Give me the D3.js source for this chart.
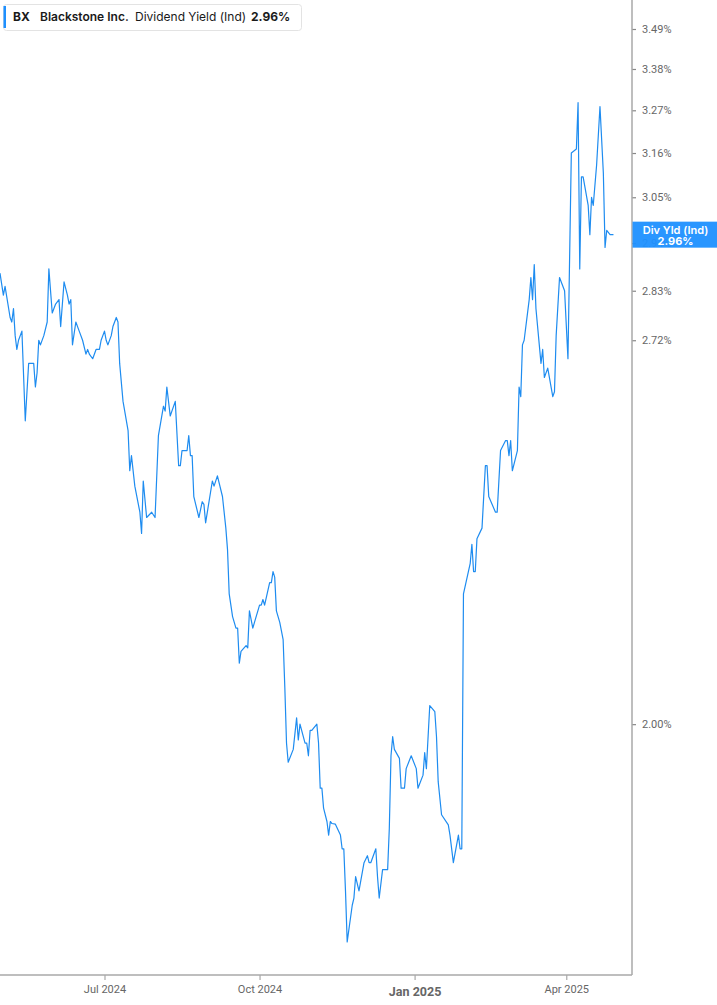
<!DOCTYPE html>
<html>
<head>
<meta charset="utf-8">
<script src="https://cdn.jsdelivr.net/npm/d3@7"></script>
<style>
  html, body { margin: 0; padding: 0; background: #ffffff; }
  svg { display: block; }
</style>
</head>
<body>
<svg id="chart" width="717" height="1005"></svg>
<script>
// ---- Data ----
const ticker = "BX";
const companyName = "Blackstone Inc.";
const metricName = "Dividend Yield (Ind)";
const metricShort = "Div Yld (Ind)";
const lastLabel = "2.96%";

const dates = [
  "2024-04-30","2024-05-02","2024-05-03","2024-05-06","2024-05-07","2024-05-08","2024-05-09","2024-05-10","2024-05-11","2024-05-13",
  "2024-05-15","2024-05-17","2024-05-20","2024-05-21","2024-05-22","2024-05-23","2024-05-24","2024-05-26","2024-05-28","2024-05-29",
  "2024-05-31","2024-06-02","2024-06-04","2024-06-05","2024-06-07","2024-06-09","2024-06-10","2024-06-11","2024-06-12","2024-06-14",
  "2024-06-16","2024-06-18","2024-06-20","2024-06-21","2024-06-22","2024-06-24","2024-06-26","2024-06-28","2024-06-29","2024-07-01",
  "2024-07-02","2024-07-03","2024-07-05","2024-07-06","2024-07-08","2024-07-09","2024-07-10","2024-07-12","2024-07-15","2024-07-16",
  "2024-07-17","2024-07-19","2024-07-22","2024-07-23","2024-07-24","2024-07-26","2024-07-29","2024-07-31","2024-08-02","2024-08-05",
  "2024-08-06","2024-08-07","2024-08-09","2024-08-12","2024-08-14","2024-08-15","2024-08-16","2024-08-19","2024-08-20","2024-08-21",
  "2024-08-22","2024-08-23","2024-08-26","2024-08-28","2024-08-29","2024-08-30","2024-09-03","2024-09-04","2024-09-06","2024-09-09",
  "2024-09-11","2024-09-12","2024-09-13","2024-09-15","2024-09-17","2024-09-18","2024-09-19","2024-09-20","2024-09-23","2024-09-24",
  "2024-09-25","2024-09-27","2024-09-30","2024-10-01","2024-10-02","2024-10-03","2024-10-04","2024-10-07","2024-10-08","2024-10-09",
  "2024-10-10","2024-10-11","2024-10-13","2024-10-15","2024-10-16","2024-10-17","2024-10-18","2024-10-21","2024-10-23","2024-10-24",
  "2024-10-25","2024-10-28","2024-10-29","2024-10-30","2024-10-31","2024-11-01","2024-11-04","2024-11-05","2024-11-06","2024-11-07",
  "2024-11-08","2024-11-10","2024-11-11","2024-11-12","2024-11-13","2024-11-15","2024-11-18","2024-11-19","2024-11-20","2024-11-21",
  "2024-11-22","2024-11-25","2024-11-26","2024-11-27","2024-11-29","2024-12-02","2024-12-04","2024-12-05","2024-12-06","2024-12-09",
  "2024-12-10","2024-12-11","2024-12-13","2024-12-16","2024-12-17","2024-12-18","2024-12-19","2024-12-20","2024-12-23","2024-12-24",
  "2024-12-26","2024-12-27","2024-12-30","2025-01-02","2025-01-03","2025-01-06","2025-01-07","2025-01-08","2025-01-10","2025-01-13",
  "2025-01-14","2025-01-15","2025-01-17","2025-01-21","2025-01-22","2025-01-24","2025-01-27","2025-01-28","2025-01-29","2025-01-30",
  "2025-02-03","2025-02-04","2025-02-05","2025-02-06","2025-02-07","2025-02-10","2025-02-12","2025-02-13","2025-02-14","2025-02-18",
  "2025-02-19","2025-02-21","2025-02-24","2025-02-25","2025-02-26","2025-02-27","2025-02-28","2025-03-03","2025-03-04","2025-03-05",
  "2025-03-06","2025-03-07","2025-03-10","2025-03-11","2025-03-12","2025-03-13","2025-03-14","2025-03-17","2025-03-18","2025-03-19",
  "2025-03-21","2025-03-24","2025-03-25","2025-03-26","2025-03-28","2025-03-31","2025-04-02","2025-04-04","2025-04-07","2025-04-08",
  "2025-04-09","2025-04-10","2025-04-11","2025-04-14","2025-04-15","2025-04-16","2025-04-17","2025-04-19","2025-04-21","2025-04-23",
  "2025-04-24","2025-04-25","2025-04-27","2025-04-29"
];

const yieldValues = [
  2.87,2.82,2.84,2.77,2.76,2.79,2.73,2.70,2.72,2.74,
  2.55,2.67,2.67,2.62,2.65,2.72,2.71,2.73,2.76,2.88,
  2.78,2.80,2.81,2.75,2.85,2.82,2.80,2.81,2.71,2.76,
  2.74,2.72,2.69,2.70,2.69,2.68,2.70,2.70,2.72,2.74,
  2.72,2.71,2.73,2.75,2.77,2.76,2.67,2.59,2.53,2.45,
  2.48,2.42,2.37,2.33,2.43,2.36,2.37,2.36,2.52,2.58,
  2.57,2.62,2.56,2.59,2.46,2.46,2.49,2.49,2.52,2.48,
  2.48,2.40,2.36,2.39,2.385,2.35,2.43,2.42,2.44,2.40,
  2.34,2.30,2.22,2.18,2.16,2.16,2.10,2.12,2.13,2.126,
  2.19,2.16,2.19,2.20,2.20,2.21,2.20,2.24,2.24,2.26,
  2.25,2.19,2.17,2.14,2.06,1.97,1.94,1.96,2.01,1.975,
  2.00,1.97,1.97,1.95,1.99,1.99,2.00,1.97,1.90,1.90,
  1.87,1.85,1.83,1.85,1.847,1.846,1.83,1.81,1.81,1.75,
  1.68,1.73,1.74,1.77,1.75,1.79,1.80,1.79,1.79,1.81,
  1.77,1.74,1.78,1.78,1.84,1.95,1.98,1.96,1.946,1.90,
  1.90,1.93,1.95,1.93,1.90,1.92,1.955,1.93,2.03,2.02,
  1.98,1.91,1.86,1.845,1.83,1.79,1.83,1.81,1.81,2.22,
  2.275,2.31,2.26,2.26,2.32,2.34,2.46,2.46,2.40,2.37,
  2.37,2.49,2.51,2.51,2.48,2.51,2.45,2.49,2.62,2.60,
  2.71,2.72,2.81,2.86,2.81,2.89,2.79,2.67,2.70,2.64,
  2.66,2.60,2.61,2.73,2.86,2.83,2.68,3.16,3.17,3.29,
  2.88,3.10,3.10,3.03,2.96,3.05,3.03,3.13,3.28,3.11,
  2.93,2.97,2.96,2.96
];

const yTickValues = [2.00, 2.72, 2.83, 2.94, 3.05, 3.16, 3.27, 3.38, 3.49];
const xTickDates = ["2024-07-01", "2024-10-01", "2025-01-01", "2025-04-01"];
const xTickLabels = ["Jul 2024", "Oct 2024", "Jan 2025", "Apr 2025"];
const xDomain = ["2024-04-30", "2025-05-10"];
const yDomain = [1.636, 3.572];

// ---- Drawing ----
const parse = d3.utcParse("%Y-%m-%d");
const data = dates.map((d, i) => ({ date: parse(d), value: yieldValues[i] }));

const W = 717, H = 1005;
const plotRight = 632, plotBottom = 975;
const lineColor = "#1e8cf0";
const axisColor = "#a8a8a8";
const textColor = "#666666";

const svg = d3.select("#chart");

const x = d3.scaleUtc().domain(xDomain.map(parse)).range([0, plotRight]);
const y = d3.scaleLog().domain(yDomain).range([plotBottom, 0]);

// line
const line = d3.line().x(d => x(d.date)).y(d => y(d.value));
svg.append("path")
  .datum(data)
  .attr("fill", "none")
  .attr("stroke", lineColor)
  .attr("stroke-width", 1.2)
  .attr("stroke-linejoin", "round")
  .attr("d", line);

// right axis
const yAxis = d3.axisRight(y)
  .tickValues(yTickValues)
  .tickSize(4)
  .tickPadding(6)
  .tickFormat(d => d.toFixed(2) + "%");
const gy = svg.append("g")
  .attr("transform", `translate(${plotRight},0)`)
  .call(yAxis);
gy.select(".domain").remove();
gy.selectAll(".tick line").attr("stroke", "#888").attr("stroke-width", 1.2);
gy.selectAll(".tick text")
  .attr("fill", textColor)
  .style("font-family", "Roboto, 'Noto Sans', sans-serif")
  .style("font-size", "11px");
svg.append("line")
  .attr("x1", plotRight).attr("x2", plotRight)
  .attr("y1", 0).attr("y2", plotBottom)
  .attr("stroke", axisColor).attr("stroke-width", 1.5);

// bottom axis
const xAxis = d3.axisBottom(x)
  .tickValues(xTickDates.map(parse))
  .tickSize(5)
  .tickPadding(5)
  .tickFormat((d, i) => xTickLabels[i]);
const gx = svg.append("g")
  .attr("transform", `translate(0,${plotBottom})`)
  .call(xAxis);
gx.select(".domain").remove();
gx.selectAll(".tick line").attr("stroke", axisColor).attr("stroke-width", 1.2);
gx.selectAll(".tick text")
  .attr("fill", textColor)
  .style("font-family", "Roboto, 'Noto Sans', sans-serif")
  .style("font-size", "11px")
  .filter((d, i) => xTickLabels[i] === "Jan 2025")
  .style("font-size", "12.5px")
  .style("font-weight", "bold")
  .attr("dy", "0.85em");
svg.append("line")
  .attr("x1", 0).attr("x2", plotRight)
  .attr("y1", plotBottom).attr("y2", plotBottom)
  .attr("stroke", axisColor).attr("stroke-width", 1.5);

// last value marker box (semi-opaque, like the reference, over the hidden tick)
const last = data[data.length - 1];
const ly = y(last.value);
const box = svg.append("g");
box.append("rect")
  .attr("x", plotRight + 0.5).attr("y", ly - 13)
  .attr("width", W - plotRight).attr("height", 26)
  .attr("fill", "#1e90ff")
  .attr("fill-opacity", 0.95);
box.append("text")
  .attr("x", (plotRight + W) / 2 + 1).attr("y", ly - 1)
  .attr("text-anchor", "middle")
  .attr("fill", "#ffffff")
  .style("font-family", "Inter, Roboto, sans-serif")
  .style("font-size", "11px").style("font-weight", "600")
  .text(metricShort);
box.append("text")
  .attr("x", (plotRight + W) / 2 + 1).attr("y", ly + 10)
  .attr("text-anchor", "middle")
  .attr("fill", "#ffffff")
  .style("font-family", "Inter, Roboto, sans-serif")
  .style("font-size", "11px").style("font-weight", "700")
  .text(last.value.toFixed(2) + "%");

// legend box
const lg = svg.append("g");
lg.append("rect")
  .attr("x", 3.5).attr("y", 4.5).attr("width", 298).attr("height", 26)
  .attr("rx", 3)
  .attr("fill", "#ffffff").attr("stroke", "#e3e3e3");
lg.append("rect")
  .attr("x", 3.5).attr("y", 6).attr("width", 2.5).attr("height", 22)
  .attr("fill", "#1e90ff");
const legendFont = "Inter, Roboto, sans-serif";
const legendItems = [
  { text: ticker, x: 13, weight: 700 },
  { text: companyName, x: 40, weight: 600 },
  { text: metricName, x: 135, weight: 400 },
  { text: lastLabel, x: 251, weight: 700 }
];
lg.selectAll("text.leg")
  .data(legendItems)
  .join("text")
  .attr("class", "leg")
  .attr("x", d => d.x).attr("y", 21)
  .attr("fill", "#1a1a1a")
  .style("font-family", legendFont)
  .style("font-size", "12px")
  .style("font-weight", d => d.weight)
  .text(d => d.text);
</script>
</body>
</html>
